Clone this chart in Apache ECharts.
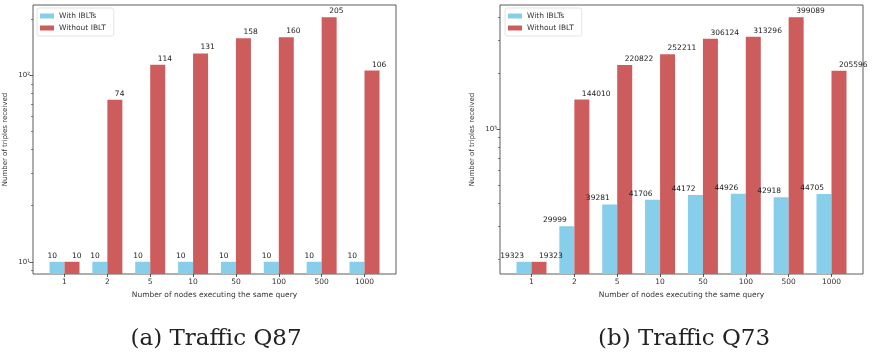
<!DOCTYPE html>
<html>
<head>
<meta charset="utf-8">
<script src="https://cdn.jsdelivr.net/npm/echarts@6/dist/echarts.min.js"></script>
<style>
  html, body { margin: 0; padding: 0; background: #fff; }
  #chart { width: 876px; height: 353px; }
</style>
</head>
<body>
<div id="chart"></div>
<script>
// data
const categories = ['1', '2', '5', '10', '50', '100', '500', '1000']
const seriesNames = ['With IBLTs', 'Without IBLT']
const q87With = [10, 10, 10, 10, 10, 10, 10, 10]
const q87Without = [10, 74, 114, 131, 158, 160, 205, 106]
const q73With = [19323, 29999, 39281, 41706, 44172, 44926, 42918, 44705]
const q73Without = [19323, 144010, 220822, 252211, 306124, 313296, 399089, 205596]
const q87MajorTicks = [10, 100]
const q87MinorTicks = [9, 20, 30, 40, 50, 60, 70, 80, 90, 200]
const q73MajorTicks = [100000]
const q73MinorTicks = [20000, 30000, 40000, 50000, 60000, 70000, 80000, 90000, 200000, 300000, 400000]
const captions = ['(a) Traffic Q87', '(b) Traffic Q73']

const FONT = 'DejaVu Sans'
const BLUE = '#87CEEB'
const RED = '#CD5C5C'
const SUP = ['⁰', '¹', '²', '³', '⁴', '⁵', '⁶']

function pairs(values) {
  return values.map((v, i) => [i, v])
}

function xAxisFor(gridIndex) {
  return {
    type: 'value',
    gridIndex: gridIndex,
    min: -0.735,
    max: 7.735,
    name: 'Number of nodes executing the same query',
    nameLocation: 'middle',
    nameGap: 17,
    nameTextStyle: { fontFamily: FONT, fontSize: 7.5, color: '#333' },
    axisLine: { show: false, onZero: false },
    splitLine: { show: false },
    axisTick: {
      show: true,
      customValues: categories.map((c, i) => i),
      length: 3,
      lineStyle: { color: '#333', width: 0.8 }
    },
    axisLabel: {
      customValues: categories.map((c, i) => i),
      formatter: v => categories[v],
      fontFamily: FONT,
      fontSize: 7.5,
      color: '#333',
      margin: 4
    }
  }
}

function yAxesFor(gridIndex, min, max, major, minor) {
  return [{
    type: 'log',
    gridIndex: gridIndex,
    position: 'left',
    min: min,
    max: max,
    name: 'Number of triples received',
    nameLocation: 'middle',
    nameRotate: 90,
    nameGap: 24,
    nameTextStyle: { fontFamily: FONT, fontSize: 7, color: '#333' },
    axisLine: { show: false, onZero: false },
    splitLine: { show: false },
    axisTick: {
      show: true,
      customValues: major,
      length: 3.5,
      lineStyle: { color: '#333', width: 0.8 }
    },
    axisLabel: {
      customValues: major,
      formatter: v => '10' + SUP[Math.round(Math.log10(v)) % 10],
      fontFamily: FONT,
      fontSize: 7,
      color: '#333',
      margin: 3
    }
  }, {
    type: 'log',
    gridIndex: gridIndex,
    position: 'left',
    min: min,
    max: max,
    axisLine: { show: false, onZero: false },
    splitLine: { show: false },
    axisLabel: { show: false },
    axisTick: {
      show: true,
      customValues: minor,
      length: 2,
      lineStyle: { color: '#333', width: 0.6 }
    }
  }]
}

function barSeries(name, values, gridIndex, color, align) {
  return {
    name: name,
    type: 'bar',
    xAxisIndex: gridIndex,
    yAxisIndex: gridIndex * 2,
    data: pairs(values),
    barWidth: '35%',
    barGap: '0%',
    clip: true,
    itemStyle: { color: color },
    label: {
      show: true,
      position: 'top',
      distance: 2,
      align: align,
      fontFamily: FONT,
      fontSize: 7.5,
      color: '#222'
    }
  }
}

function legendAt(left) {
  return {
    data: seriesNames,
    orient: 'vertical',
    left: left,
    top: 8,
    itemWidth: 14,
    itemHeight: 5,
    itemGap: 4,
    padding: [4, 8, 4, 3],
    icon: 'rect',
    borderColor: '#ddd',
    borderWidth: 0.8,
    borderRadius: 2,
    textStyle: { fontFamily: FONT, fontSize: 7.5, color: '#333' }
  }
}

function caption(text, x) {
  return {
    text: text,
    left: x,
    top: 323,
    textAlign: 'center',
    textStyle: { fontFamily: 'DejaVu Serif', fontWeight: 'normal', fontSize: 23, color: '#222' }
  }
}

const chart = echarts.init(document.getElementById('chart'))
chart.setOption({
  animation: false,
  backgroundColor: '#fff',
  title: [caption(captions[0], 211), caption(captions[1], 679)],
  legend: [legendAt(37), legendAt(505)],
  grid: [
    { left: 33, top: 5, width: 363, height: 269, show: true, borderColor: '#333', borderWidth: 0.8 },
    { left: 500, top: 5, width: 363, height: 269, show: true, borderColor: '#333', borderWidth: 0.8 }
  ],
  xAxis: [xAxisFor(0), xAxisFor(1)],
  yAxis: yAxesFor(0, 8.597, 238.4, q87MajorTicks, q87MinorTicks)
    .concat(yAxesFor(1, 16614, 464450, q73MajorTicks, q73MinorTicks)),
  series: [
    barSeries(seriesNames[0], q87With, 0, BLUE, 'right'),
    barSeries(seriesNames[1], q87Without, 0, RED, 'left'),
    barSeries(seriesNames[0], q73With, 1, BLUE, 'right'),
    barSeries(seriesNames[1], q73Without, 1, RED, 'left')
  ]
})
</script>
</body>
</html>
